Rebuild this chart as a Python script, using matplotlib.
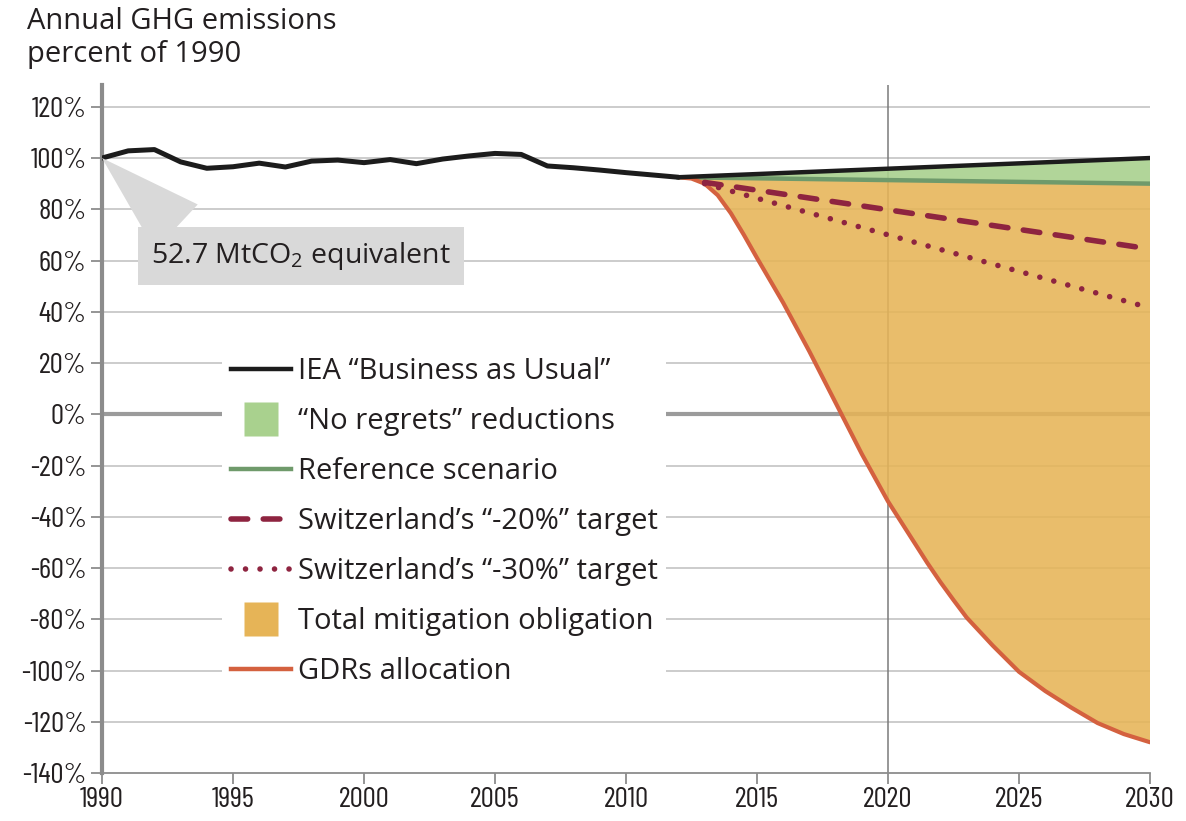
import numpy as np
import matplotlib
matplotlib.use('Agg')
import matplotlib.pyplot as plt
from matplotlib.lines import Line2D

plt.rcParams['font.family'] = ['Open Sans', 'DejaVu Sans']
plt.rcParams['mathtext.fontset'] = 'custom'
plt.rcParams['mathtext.rm'] = 'Open Sans'

# historical emissions, percent of 1990
hist_years = list(range(1990, 2013))
hist_values = [100, 102.8, 103.3, 98.5, 96, 96.6, 98.0, 96.5, 98.8, 99.2, 98.2, 99.4,
               97.8, 99.6, 100.8, 101.8, 101.4, 96.9, 96.2, 95.3, 94.3, 93.4, 92.5]

# projections (straight lines)
proj_years = [2012, 2030]
bau = [92.5, 100]
reference = [92.5, 90.0]
target_years = [2013, 2030]
target20 = [90.5, 64.5]
target30 = [90.0, 41.5]

# GDRs allocation
gdr_years = [2012, 2012.5, 2013, 2013.5, 2014, 2014.5, 2015, 2016, 2017, 2018, 2019, 2020,
             2020.5, 2021, 2021.5, 2022, 2022.5, 2023, 2024, 2025, 2026, 2027, 2028, 2029, 2030]
gdrs = [92.5, 92.0, 90.0, 85.5, 78.5, 70, 61, 43.5, 24.5, 4.5, -15.5, -34,
        -42, -50, -58, -65.5, -72.5, -79.3, -90.3, -100.5, -108, -114.5, -120.5, -124.8, -128]

ytick_vals = list(range(-140, 121, 20))
ytick_labels = [f"{v}%" for v in ytick_vals]
xtick_vals = list(range(1990, 2031, 5))

labels = ['IEA \u201cBusiness as Usual\u201d', '\u201cNo regrets\u201d reductions',
          'Reference scenario', 'Switzerland\u2019s \u201c-20%\u201d target',
          'Switzerland\u2019s \u201c-30%\u201d target', 'Total mitigation obligation',
          'GDRs allocation']

txt = '#231f20'
c_black = '#1c1c1c'
c_green = '#a9d18e'
c_ref = '#6f9a6b'
c_maroon = '#8e2440'
c_orange = '#e6b457'
c_gdr = '#d4613f'
c_grid = '#c4c4c4'
c_axis = '#8c8c8c'
tickfont = ['Barlow Condensed', 'Archivo Narrow', 'DejaVu Sans']

fig = plt.figure(figsize=(11.86, 8.21), dpi=100)
ax = fig.add_axes([102/1186, 1-773/821, 1048/1186, 688/821])
ax.set_xlim(1990, 2030)
ax.set_ylim(-140, 128.5)

# grid
for v in ytick_vals[1:]:
    if v == 0:
        ax.axhline(v, color='#9b9b9b', lw=3, zorder=0.5)
    else:
        ax.axhline(v, color=c_grid, lw=1.2, zorder=0.5)
ax.axvline(2020, color='#7a7a7a', lw=1.1, zorder=0.6)

# fills
ax.fill(np.concatenate([proj_years, gdr_years[::-1]]),
        np.concatenate([reference, gdrs[::-1]]),
        color=c_orange, alpha=0.88, lw=0, zorder=1)
ax.fill(np.concatenate([proj_years, proj_years[::-1]]),
        np.concatenate([bau, reference[::-1]]),
        color=c_green, alpha=0.9, lw=0, zorder=1)

# lines
ax.plot(proj_years, reference, color=c_ref, lw=3.2, zorder=3)
ax.plot(gdr_years, gdrs, color=c_gdr, lw=3.0, zorder=3, solid_capstyle='round',
        solid_joinstyle='round')
ax.plot(target_years, target20, color=c_maroon, lw=4, dashes=(3, 2.8),
        dash_capstyle='round', zorder=4)
ax.plot(target_years, target30, color=c_maroon, lw=4, dashes=(0.01, 2.6),
        dash_capstyle='round', zorder=4)
ax.plot(proj_years, bau, color=c_black, lw=3.2, zorder=5, solid_capstyle='round')
ax.plot(hist_years, hist_values, color=c_black, lw=3.6, zorder=5,
        solid_joinstyle='round', solid_capstyle='round')

# annotation
ax.annotate('52.7 MtCO$_\\mathrm{2}$ equivalent', xy=(hist_years[0], hist_values[0]),
            xytext=(1997.6, 61.7), ha='center', va='center', fontsize=20.5, color=txt,
            bbox=dict(boxstyle='square,pad=0.45', fc='#d9d9d9', ec='none'),
            arrowprops=dict(arrowstyle='wedge,tail_width=2.2', fc='#d9d9d9', ec='none',
                            relpos=(0.13, 1.0), shrinkA=0, shrinkB=0),
            zorder=6)

# axes styling
for s in ['top', 'right']:
    ax.spines[s].set_visible(False)
ax.spines['left'].set_color(c_axis)
ax.spines['left'].set_linewidth(3)
ax.spines['bottom'].set_color(c_axis)
ax.spines['bottom'].set_linewidth(1.3)
ax.set_yticks(ytick_vals)
ax.set_yticklabels(ytick_labels, family=tickfont, fontsize=21, color=txt)
ax.set_xticks(xtick_vals)
ax.set_xticklabels([str(v) for v in xtick_vals], family=tickfont, fontsize=21, color=txt)
ax.tick_params(axis='y', length=8, width=1.3, color=c_axis, pad=3)
ax.tick_params(axis='x', length=8, width=1.3, color=c_axis, pad=2)

# legend
handles = [
    Line2D([], [], color=c_black, lw=3.2),
    Line2D([], [], ls='none', marker='s', ms=25, mfc=c_green, mec='none'),
    Line2D([], [], color=c_ref, lw=3.2),
    Line2D([], [], color=c_maroon, lw=4, dashes=(3, 2.8), dash_capstyle='round'),
    Line2D([], [], color=c_maroon, lw=4, dashes=(0.01, 2.6), dash_capstyle='round'),
    Line2D([], [], ls='none', marker='s', ms=25, mfc=c_orange, mec='none'),
    Line2D([], [], color=c_gdr, lw=3.2),
]
leg = ax.legend(handles, labels, loc='upper left', bbox_to_anchor=(222/1186, 1-348/821),
                bbox_transform=fig.transFigure, fontsize=21, frameon=True,
                facecolor='white', edgecolor='none', framealpha=1, borderpad=0.3,
                handlelength=2.05, handletextpad=0.25, labelspacing=0.72,
                borderaxespad=0)
for t in leg.get_texts():
    t.set_color(txt)
leg.set_zorder(10)

fig.text(27/1186, 1-7/821, 'Annual GHG emissions\npercent of 1990', ha='left', va='top',
         fontsize=21, color=txt, linespacing=1.2)

fig.savefig('out.png', dpi=100)
